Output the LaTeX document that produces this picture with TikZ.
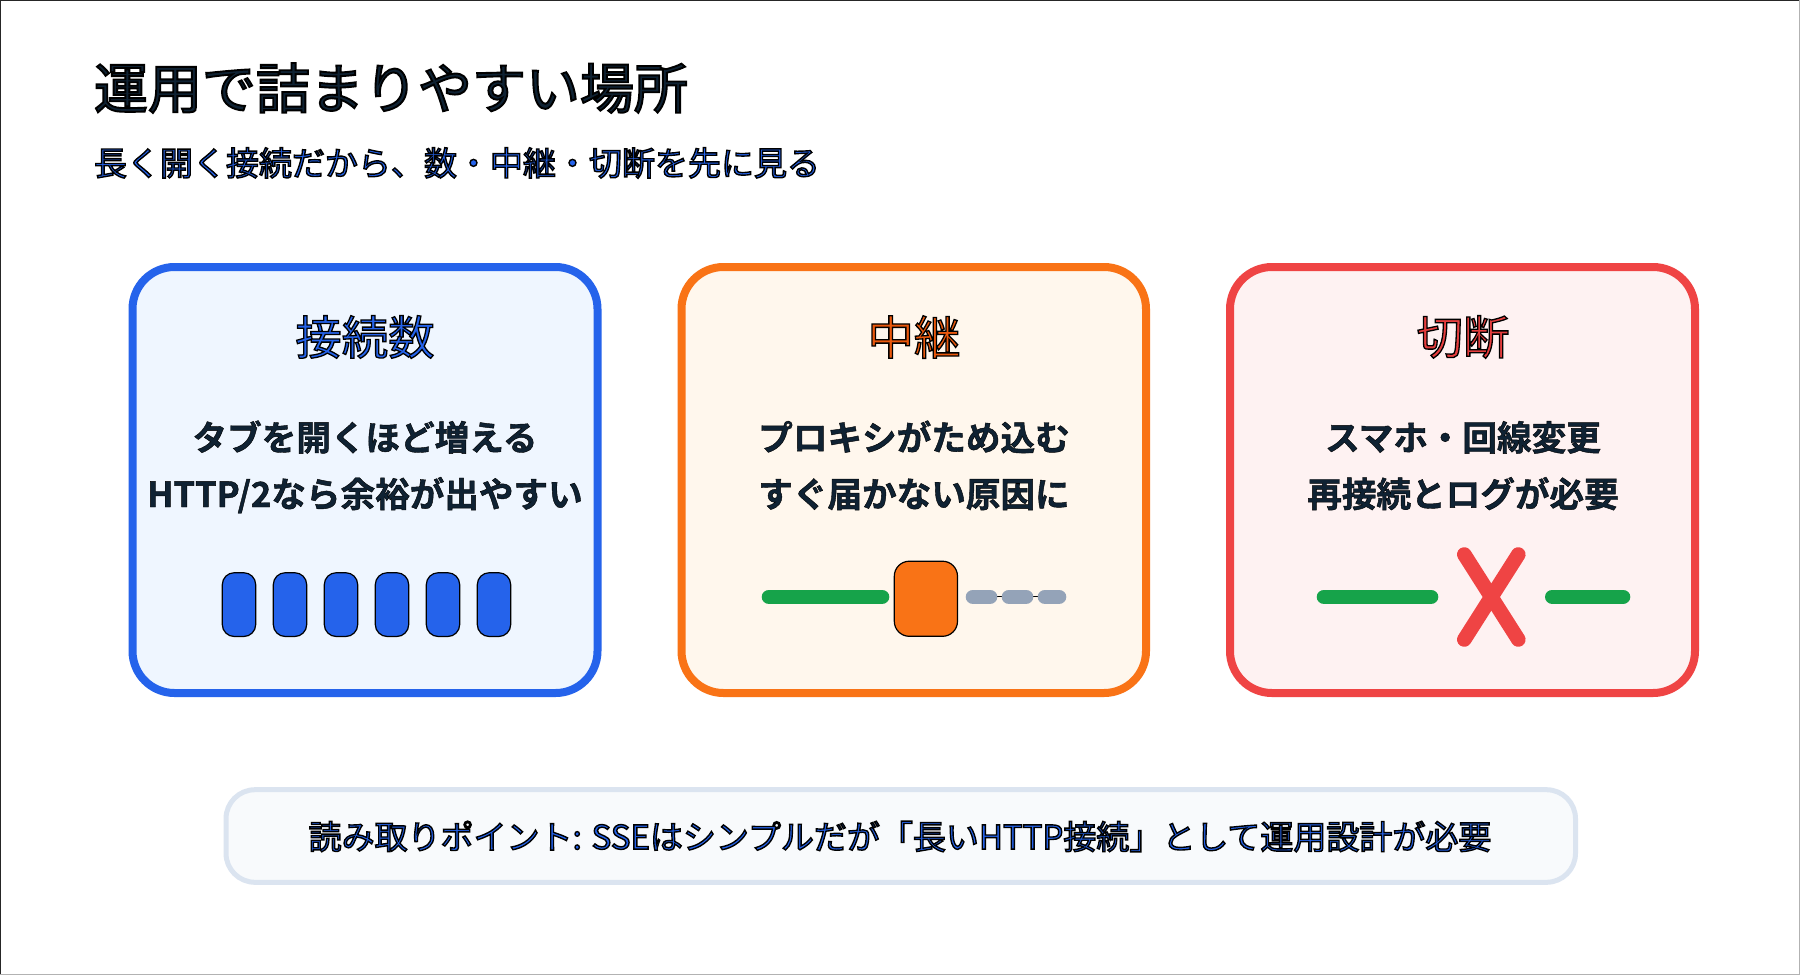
\documentclass[tikz,border=0pt]{standalone}
\usepackage{fontspec}
\setmainfont{Noto Sans CJK JP}
\newfontfamily\jpbold{Noto Sans CJK JP Bold}
\definecolor{ink}{HTML}{0F2233}
\definecolor{subink}{HTML}{2563EB}
\definecolor{blueedge}{HTML}{2563EB}
\definecolor{bluefill}{HTML}{EFF6FF}
\definecolor{orangeedge}{HTML}{F97316}
\definecolor{orangetext}{HTML}{EA580C}
\definecolor{orangefill}{HTML}{FFF7ED}
\definecolor{rededge}{HTML}{EF4444}
\definecolor{redtext}{HTML}{E53E3E}
\definecolor{redfill}{HTML}{FEF2F2}
\definecolor{greenbar}{HTML}{16A34A}
\definecolor{graybar}{HTML}{94A3B8}
\definecolor{notefill}{HTML}{F8FAFC}
\definecolor{noteedge}{HTML}{DBE4F0}
\newcommand{\strk}[2][1.4]{\special{pdf:code 2 Tr #1 w 0 0 0 RG}#2\special{pdf:code 0 Tr}}
\tikzset{
  card/.style={line width=8pt,rounded corners=42pt},
  slot/.style={draw=black,line width=1.2pt,fill=blueedge,rounded corners=12pt},
  bar/.style={line width=14.6pt,line cap=round},
  txt/.style={inner sep=0pt,outer sep=0pt,anchor=center},
  body/.style={inner sep=0pt,outer sep=0pt,anchor=base,text=ink,font=\jpbold\fontsize{34.6}{40}\selectfont},
  heading/.style={txt,font=\fontsize{46.4}{50}\selectfont},
}
\begin{document}
\begin{tikzpicture}[x=1pt,y=-1pt]
\useasboundingbox (0,0) rectangle (1800,975);
\fill[white] (0,0) rectangle (1800,975);
\draw[black!85,line width=2pt] (0,975) -- (0,0) -- (1800,0);
\draw[black!30,line width=2pt] (0,975) -- (1800,975) -- (1800,0);
\node[txt,anchor=west,text=ink,font=\fontsize{54}{60}\selectfont] (title) at (94,88) {\strk[1.9]{運用で詰まりやすい場所}};
\node[txt,anchor=west,text=subink,font=\fontsize{33}{40}\selectfont] (sub) at (94,163) {\strk{長く開く接続だから、数・中継・切断を先に見る}};
% cards
\draw[card,draw=blueedge,fill=bluefill] (132.5,267) rectangle (597.5,693);
\draw[card,draw=orangeedge,fill=orangefill] (681.5,267) rectangle (1146,693);
\draw[card,draw=rededge,fill=redfill] (1230,267) rectangle (1695,693);
\node[heading,text=subink] (t1) at (365,337) {\strk[1.3]{接続数}};
\node[heading,text=orangetext] (t2) at (914,337) {\strk[1.3]{中継}};
\node[heading,text=redtext] (t3) at (1463,337) {\strk[1.3]{切断}};
\node[body] (a1) at (365,450.5) {\strk[0.4]{タブを開くほど増える}};
\node[body] (a2) at (365,507) {\strk[0.4]{HTTP/2なら余裕が出やすい}};
\node[body] (b1) at (914,450.5) {\strk[0.4]{プロキシがため込む}};
\node[body] (b2) at (914,507) {\strk[0.4]{すぐ届かない原因に}};
\node[body] (c1) at (1463,450.5) {\strk[0.4]{スマホ・回線変更}};
\node[body] (c2) at (1463,507) {\strk[0.4]{再接続とログが必要}};
% slots
\foreach \i in {0,...,5}{
  \draw[slot] ({222.3+51*\i},572.7) rectangle ({255.7+51*\i},636.5);
}
% relay
\draw[bar,greenbar] (769,596.8) -- (882,596.8);
\draw[black,line width=1pt] (973,596.8) -- (1059,596.8);
\draw[bar,graybar] (973,596.8) -- (990,596.8);
\draw[bar,graybar] (1009,596.8) -- (1026,596.8);
\draw[bar,graybar] (1045,596.8) -- (1059,596.8);
\draw[draw=black,line width=1.2pt,fill=orangeedge,rounded corners=15pt] (894.3,561.2) rectangle (957.5,636.3);
% cut
\draw[bar,greenbar] (1324,596.8) -- (1431,596.8);
\draw[bar,greenbar] (1552.3,596.8) -- (1623,596.8);
\draw[bar,rededge] (1464.3,554.5) -- (1518.3,639.5);
\draw[bar,rededge] (1518.3,554.5) -- (1464.3,639.5);
% note
\draw[line width=5pt,draw=noteedge,fill=notefill,rounded corners=29pt] (226,789.7) rectangle (1575.5,882.3);
\node[txt,text=subink,font=\fontsize{33}{40}\selectfont] (note) at (900,836.5) {\strk{読み取りポイント: SSEはシンプルだが「長いHTTP接続」として運用設計が必要}};
\end{tikzpicture}
\end{document}
